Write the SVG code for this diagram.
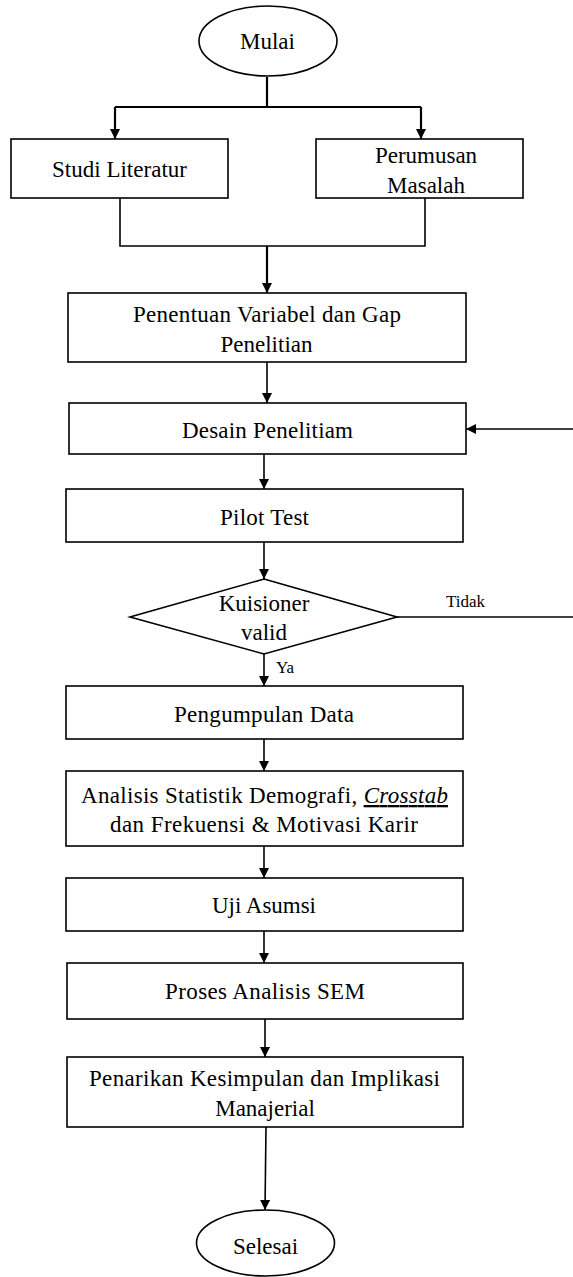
<svg xmlns="http://www.w3.org/2000/svg" width="573" height="1277" viewBox="0 0 573 1277" font-family="'Liberation Serif', 'Times New Roman', serif">
<style>
.box{fill:#fff;stroke:#000;stroke-width:1.6}
.t{font-family:'Liberation Serif','Times New Roman',serif;font-size:23px;fill:#000;text-anchor:middle}
.s{font-family:'Liberation Serif','Times New Roman',serif;font-size:17px;fill:#000}
.c{fill:none;stroke:#000;stroke-width:1.6}
.c2{fill:none;stroke:#000;stroke-width:2.2}
</style>
<defs>
<marker id="ah" markerUnits="userSpaceOnUse" markerWidth="10" markerHeight="12" refX="10" refY="5" orient="auto">
<path d="M0,0 L10,5 L0,10 Z" fill="#000"/>
</marker>
</defs>
<rect width="573" height="1277" fill="#fff"/>
<g id="connectors">
<path class="c2" d="M267,77 V107 M115,107 H421"/>
<path class="c2" d="M115,107 V139" marker-end="url(#ah)"/>
<path class="c2" d="M421,107 V139" marker-end="url(#ah)"/>
<path class="c" d="M120,198 V246 H425 V198"/>
<path class="c2" d="M267,246 V293" marker-end="url(#ah)"/>
<path class="c" d="M267,362 V403" marker-end="url(#ah)"/>
<path class="c" d="M264,454 V489" marker-end="url(#ah)"/>
<path class="c" d="M573,429 H466" marker-end="url(#ah)"/>
<path class="c" d="M264,542 V579" marker-end="url(#ah)"/>
<path class="c" d="M397,617 H573"/>
<path class="c" d="M264,654 V686" marker-end="url(#ah)"/>
<path class="c" d="M264,739 V771" marker-end="url(#ah)"/>
<path class="c" d="M264,846 V878" marker-end="url(#ah)"/>
<path class="c" d="M264,931 V963" marker-end="url(#ah)"/>
<path class="c" d="M265,1019 V1057" marker-end="url(#ah)"/>
<path class="c" d="M266,1127 L265,1210" marker-end="url(#ah)"/>
<text class="s" x="446" y="607">Tidak</text>
<text class="s" x="276" y="673">Ya</text>
</g>
<g id="mulai">
<ellipse class="box" cx="268" cy="41" rx="69" ry="35"/>
<text class="t" x="267.5" y="49">Mulai</text>
</g>
<g id="studi">
<rect class="box" x="11" y="139" width="217" height="59"/>
<text class="t" x="119.5" y="177" textLength="135" lengthAdjust="spacing">Studi Literatur</text>
</g>
<g id="perumusan">
<rect class="box" x="316" y="139" width="207" height="59"/>
<text class="t" x="426" y="163">Perumusan</text>
<text class="t" x="426" y="193">Masalah</text>
</g>
<g id="penentuan">
<rect class="box" x="68" y="293" width="398" height="69"/>
<text class="t" x="267" y="322" textLength="268" lengthAdjust="spacing">Penentuan Variabel dan Gap</text>
<text class="t" x="266.5" y="352">Penelitian</text>
</g>
<g id="desain">
<rect class="box" x="69" y="403" width="397" height="51"/>
<text class="t" x="267.5" y="438" textLength="171" lengthAdjust="spacing">Desain Penelitiam</text>
</g>
<g id="pilot">
<rect class="box" x="66" y="489" width="397" height="53"/>
<text class="t" x="264.5" y="525" textLength="89" lengthAdjust="spacing">Pilot Test</text>
</g>
<g id="kuisioner">
<polygon class="box" points="264,579 397,617 264,654 130,617"/>
<text class="t" x="264" y="611">Kuisioner</text>
<text class="t" x="264" y="640">valid</text>
</g>
<g id="pengumpulan">
<rect class="box" x="66" y="686" width="397" height="53"/>
<text class="t" x="264" y="722" textLength="180" lengthAdjust="spacing">Pengumpulan Data</text>
</g>
<g id="analisis">
<rect class="box" x="66" y="771" width="397" height="75"/>
<text class="t" x="264.5" y="803" textLength="367" lengthAdjust="spacing">Analisis Statistik Demografi, <tspan font-style="italic" text-decoration="underline">Crosstab</tspan></text>
<text class="t" x="264" y="832" textLength="308" lengthAdjust="spacing">dan  Frekuensi &amp; Motivasi Karir</text>
</g>
<g id="uji">
<rect class="box" x="66" y="878" width="397" height="53"/>
<text class="t" x="264" y="913" textLength="104" lengthAdjust="spacing">Uji Asumsi</text>
</g>
<g id="proses">
<rect class="box" x="67" y="963" width="396" height="56"/>
<text class="t" x="265" y="999" textLength="200" lengthAdjust="spacing">Proses Analisis SEM</text>
</g>
<g id="penarikan">
<rect class="box" x="67" y="1057" width="396" height="70"/>
<text class="t" x="264.5" y="1086" textLength="351" lengthAdjust="spacing">Penarikan Kesimpulan dan Implikasi</text>
<text class="t" x="265" y="1116">Manajerial</text>
</g>
<g id="selesai">
<ellipse class="box" cx="265.5" cy="1243" rx="69" ry="33"/>
<text class="t" x="265.5" y="1254">Selesai</text>
</g>
</svg>
